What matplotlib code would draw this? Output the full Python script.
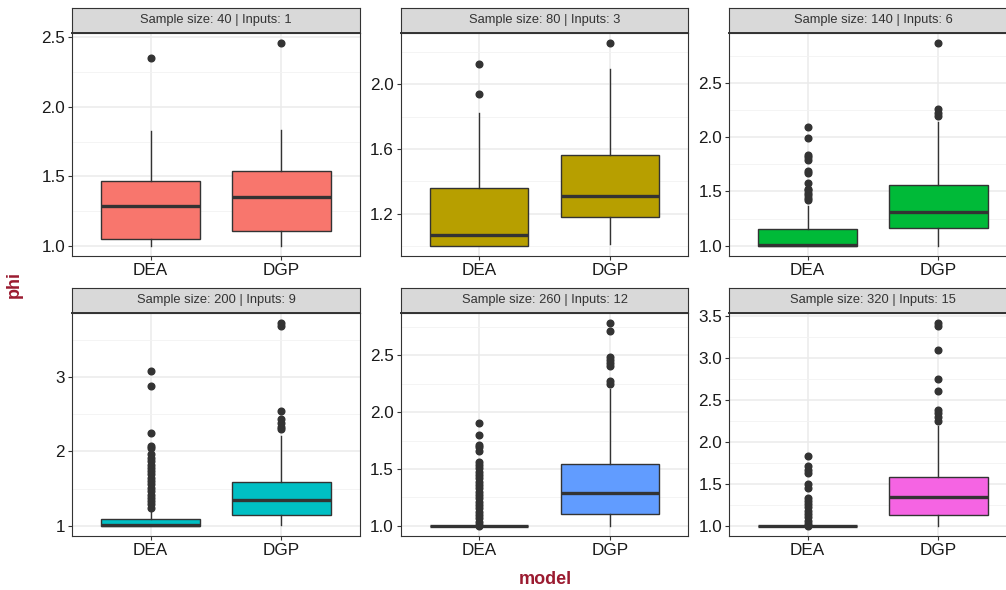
import numpy as np
import matplotlib
matplotlib.use('Agg')
from matplotlib import pyplot as plt

plt.rcParams['font.family'] = ['Liberation Sans', 'DejaVu Sans']

# facet titles
titles = ['Sample size: 40 | Inputs: 1', 'Sample size: 80 | Inputs: 3',
          'Sample size: 140 | Inputs: 6', 'Sample size: 200 | Inputs: 9',
          'Sample size: 260 | Inputs: 12', 'Sample size: 320 | Inputs: 15']
models = ['DEA', 'DGP']
colors = ['#F8766D', '#B79F00', '#00BA38', '#00BFC4', '#619CFF', '#F564E3']

# box stats per panel, per model: (whislo, q1, med, q3, whishi)
dea_stats = [
    (1.0, 1.048, 1.288, 1.47, 1.823),
    (1.0, 1.0, 1.066, 1.357, 1.823),
    (1.0, 1.0, 1.005, 1.156, 1.37),
    (1.0, 1.0, 1.005, 1.098, 1.23),
    (1.0, 1.0, 1.0, 1.0, 1.0),
    (1.0, 1.0, 1.0, 1.0, 1.0),
]
dgp_stats = [
    (1.0, 1.106, 1.35, 1.537, 1.83),
    (1.012, 1.179, 1.309, 1.565, 2.097),
    (1.0, 1.162, 1.315, 1.557, 2.14),
    (1.013, 1.142, 1.347, 1.59, 2.21),
    (1.0, 1.108, 1.287, 1.547, 2.2),
    (1.0, 1.131, 1.349, 1.578, 2.19),
]
dea_out = [
    [2.352],
    [1.938, 2.128],
    [1.42, 1.44, 1.465, 1.487, 1.51, 1.527, 1.58, 1.67, 1.685, 1.79, 1.82, 1.84, 1.99, 2.09],
    [1.24, 1.29, 1.33, 1.38, 1.42, 1.47, 1.51, 1.56, 1.60, 1.64, 1.69, 1.73, 1.78, 1.82,
     1.87, 1.91, 1.96, 2.04, 2.07, 2.244, 2.88, 3.08],
    [1.002, 1.009, 1.038, 1.067, 1.096, 1.126, 1.155, 1.184, 1.213, 1.243, 1.272, 1.301, 1.33,
     1.36, 1.39, 1.418, 1.447, 1.477, 1.506, 1.535, 1.558, 1.66, 1.696, 1.716, 1.80, 1.906],
    [1.002, 1.02, 1.06, 1.10, 1.14, 1.18, 1.22, 1.26, 1.30, 1.33, 1.456, 1.495,
     1.634, 1.67, 1.71, 1.83],
]
dgp_out = [
    [2.458],
    [2.256],
    [2.197, 2.218, 2.255, 2.864],
    [2.30, 2.33, 2.38, 2.43, 2.54, 3.68, 3.72],
    [2.246, 2.275, 2.404, 2.433, 2.462, 2.485, 2.719, 2.784],
    [2.248, 2.30, 2.347, 2.387, 2.61, 2.755, 3.096, 3.385, 3.417],
]
yticks = [
    [1.0, 1.5, 2.0, 2.5],
    [1.2, 1.6, 2.0],
    [1.0, 1.5, 2.0, 2.5],
    [1, 2, 3],
    [1.0, 1.5, 2.0, 2.5],
    [1.0, 1.5, 2.0, 2.5, 3.0, 3.5],
]
ytick_labels = [
    ['1.0', '1.5', '2.0', '2.5'],
    ['1.2', '1.6', '2.0'],
    ['1.0', '1.5', '2.0', '2.5'],
    ['1', '2', '3'],
    ['1.0', '1.5', '2.0', '2.5'],
    ['1.0', '1.5', '2.0', '2.5', '3.0', '3.5'],
]

W, H = 1006, 590
fig = plt.figure(figsize=(W / 100, H / 100), dpi=100)

dark = '#333333'
lefts = [72, 400.5, 729]
pw = 288
rows = [(33, 256), (313, 536)]
strip_h = 25

for i in range(6):
    r, c = divmod(i, 3)
    top, bot = rows[r]
    x0 = lefts[c]
    ax = fig.add_axes([x0 / W, 1 - bot / H, pw / W, (bot - top) / H])
    sax = fig.add_axes([x0 / W, 1 - top / H, pw / W, strip_h / H])

    stats = []
    for st, out, lab in [(dea_stats[i], dea_out[i], models[0]), (dgp_stats[i], dgp_out[i], models[1])]:
        stats.append(dict(whislo=st[0], q1=st[1], med=st[2], q3=st[3], whishi=st[4],
                          fliers=np.array(out), label=lab))
    ax.set_axisbelow(True)
    ax.bxp(stats, positions=[1, 2], widths=0.75, patch_artist=True, showcaps=False,
           boxprops=dict(facecolor=colors[i], edgecolor=dark, linewidth=1.0),
           medianprops=dict(color=dark, linewidth=2.4, solid_capstyle='butt'),
           whiskerprops=dict(color=dark, linewidth=1.0),
           flierprops=dict(marker='o', markerfacecolor=dark, markeredgecolor=dark,
                           markersize=4.8, linestyle='none'))

    allv = list(dea_stats[i]) + list(dgp_stats[i]) + dea_out[i] + dgp_out[i]
    lo, hi = min(allv), max(allv)
    pad = (hi - lo) * 0.05
    ax.set_ylim(lo - pad, hi + pad)
    ax.set_xlim(0.4, 2.6)

    yt = yticks[i]
    step = yt[1] - yt[0]
    minors = np.arange(yt[0] - step / 2, hi + pad, step)
    minors = minors[(minors > lo - pad) & (minors < hi + pad)]
    ax.set_yticks(yt)
    ax.set_yticklabels(ytick_labels[i])
    ax.set_yticks(minors, minor=True)
    ax.set_xticks([1, 2])
    ax.set_xticklabels(models)
    ax.grid(True, which='major', color='#EBEBEB', linewidth=1.1)
    ax.grid(True, which='minor', axis='y', color='#F2F2F2', linewidth=0.6)
    ax.tick_params(which='major', length=3, width=0.8, color=dark, labelsize=12.3,
                   labelcolor='#1A1A1A', pad=2)
    ax.tick_params(which='minor', length=0)
    for sp in ax.spines.values():
        sp.set_color(dark)
        sp.set_linewidth(0.8)

    sax.set_facecolor('#D9D9D9')
    sax.set_xticks([])
    sax.set_yticks([])
    for sp in sax.spines.values():
        sp.set_color(dark)
        sp.set_linewidth(0.8)
    sax.spines['bottom'].set_linewidth(1.4)
    sax.text(0.5, 0.5, titles[i], ha='center', va='center', fontsize=9.3, color='#333333',
             transform=sax.transAxes)

fig.text(14 / W, 1 - 285 / H, 'phi', rotation=90, ha='center', va='center',
         fontsize=13, fontweight='bold', color='#9B1B30')
fig.text(545 / W, 1 - 580 / H, 'model', ha='center', va='center',
         fontsize=13, fontweight='bold', color='#9B1B30')

fig.savefig('out.png', dpi=100)
